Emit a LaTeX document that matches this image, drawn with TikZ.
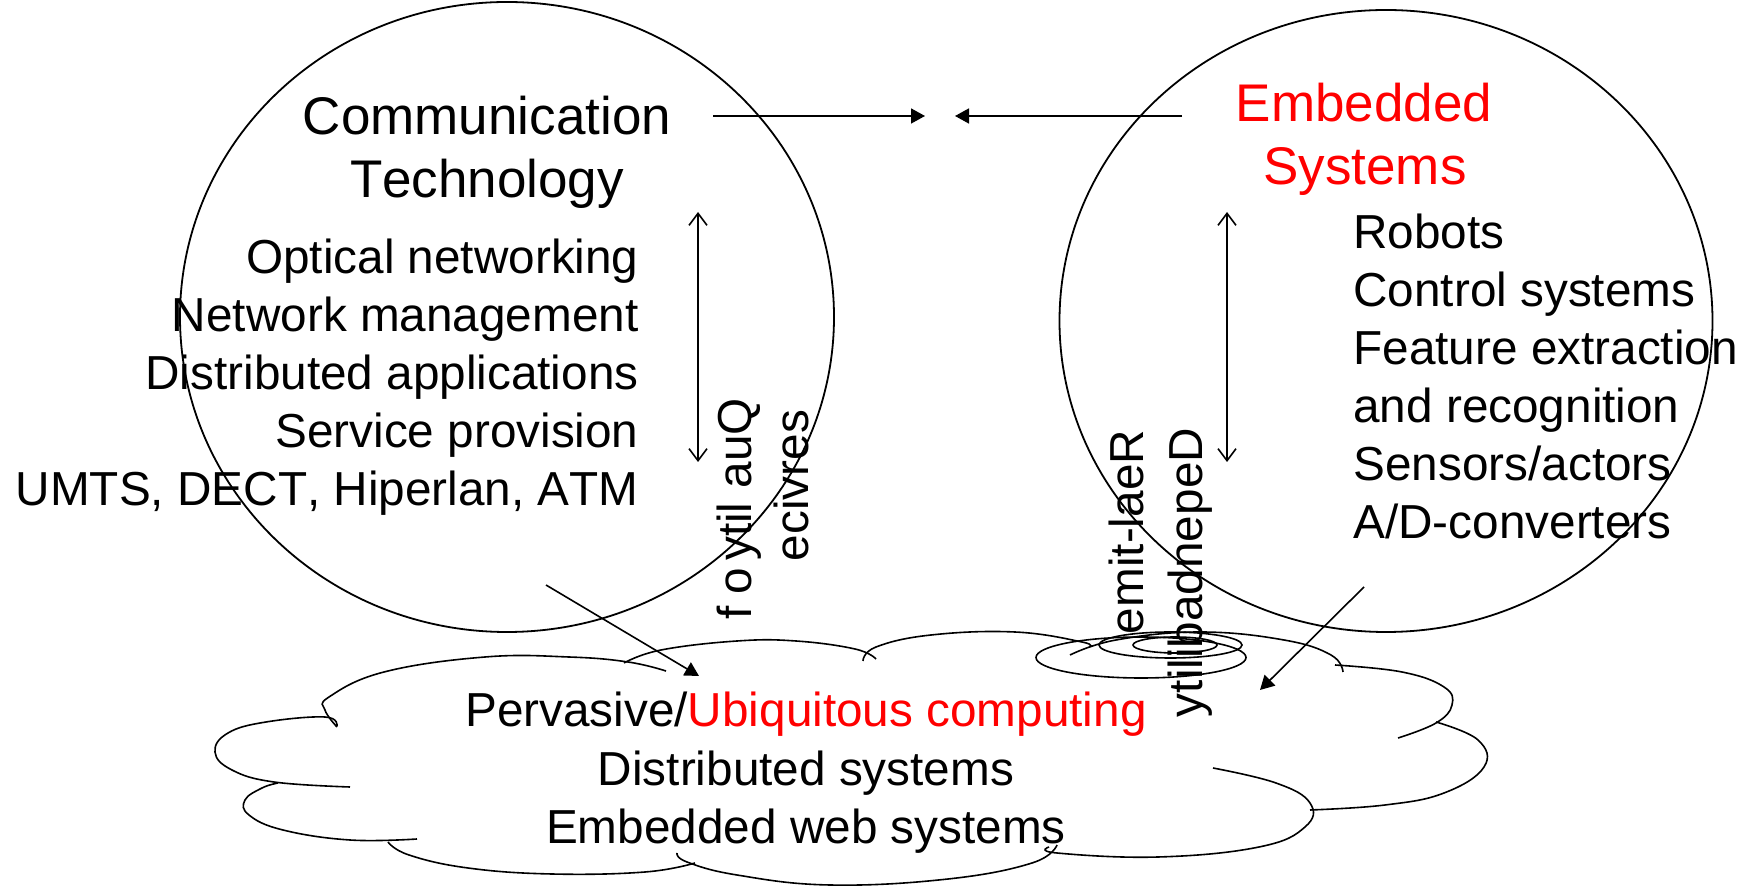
\documentclass[tikz,border=0pt]{standalone}
\usepackage{fontspec}
\setmainfont{Liberation Sans}[Kerning=Off]
\usetikzlibrary{arrows.meta}
\definecolor{ubred}{RGB}{255,0,0}
\newcommand\listfont{\fontsize{23.85}{29}\selectfont}
\newcommand\titlefont{\fontsize{26.5}{32}\selectfont}
\newcommand\vsk[1]{\hspace*{#1em}}
\newcommand\vcol[3]{%
  \node[vstart] (#1-0) at #2 {};
  \foreach \vc [count=\i, remember=\i as \j (initially 0)] in {#3} {
    \node[vch] (#1-\i) at (#1-\j.base west) {\vc};
  }%
}
\tikzset{
  vstart/.style={rotate=90, anchor=base east, inner sep=0pt, outer sep=0pt, font=\listfont},
  vch/.style={rotate=90, anchor=base east, inner sep=0pt, outer sep=0pt, font=\listfont},
  ltext/.style={anchor=base east, inner sep=0pt, font=\listfont},
  rtext/.style={anchor=base west, inner sep=0pt, font=\listfont},
  ctext/.style={anchor=base, inner sep=0pt, font=\listfont},
  ttext/.style={anchor=base, inner sep=0pt, font=\titlefont},
  ring/.style={line width=0.9pt},
  cloudline/.style={line width=0.8pt},
  bump/.style={cloudline, smooth, tension=0.7},
  fillarrow/.style={line width=0.8pt, -{Triangle[length=7pt,width=7.5pt]}},
  openarrow/.style={line width=0.8pt, {Straight Barb[length=6pt,width=9pt]}-{Straight Barb[length=6pt,width=9pt]}},
}
\begin{document}
\begin{tikzpicture}[x=0.5pt,y=-0.5pt]
\useasboundingbox (0,0) rectangle (1746,886);
% big circles
\draw[ring] (507,317) ellipse [x radius=327, y radius=315];
\draw[ring] (1386,321) ellipse [x radius=326.5, y radius=311];
% cloud fill
\fill[white] (215,752) -- (228,733) -- (266,722) -- (325,717)
 -- (329,697) -- (384,672) -- (485,657) -- (569,657) -- (628,662)
 -- (661,650) -- (737,641) -- (796,641) -- (855,649)
 -- (876,647) -- (931,635) -- (1015,632) -- (1082,642)
 -- (1116,640) -- (1200,632) -- (1284,640) -- (1331,655)
 -- (1402,672) -- (1444,687) -- (1452,705) -- (1436,723)
 -- (1478,740) -- (1484,767) -- (1444,793) -- (1385,805) -- (1310,810)
 -- (1305,827) -- (1259,847) -- (1158,857) -- (1057,853)
 -- (1032,863) -- (948,879) -- (830,885) -- (737,875) -- (687,862)
 -- (645,872) -- (552,874) -- (468,868) -- (409,855)
 -- (350,840) -- (283,830) -- (249,815) -- (245,800) -- (262,788)
 -- (232,770) -- cycle;
% cloud bumps
\draw[bump] plot coordinates {(337,727) (325,710) (329,697) (384,672) (485,657) (569,657) (628,662) (666,671)};
\draw[bump] plot coordinates {(624,663) (661,650) (737,641) (796,641) (855,649) (876,659)};
\draw[bump] plot coordinates {(863,661) (876,647) (931,635) (1015,632) (1082,642) (1089,647)};
\draw[bump] plot coordinates {(1070,655) (1116,640) (1200,632) (1284,640) (1331,655) (1343,672)};
\draw[bump] plot coordinates {(1335,665) (1402,672) (1444,687) (1452,705) (1436,723) (1398,738)};
\draw[bump] plot coordinates {(1436,722) (1478,740) (1484,767) (1444,793) (1385,805) (1310,810)};
\draw[bump] plot coordinates {(1213,768) (1276,783) (1310,803) (1305,827) (1259,847) (1158,857) (1057,853) (1049,847)};
\draw[bump] plot coordinates {(1057,845) (1032,863) (948,879) (830,885) (737,875) (687,862) (677,853)};
\draw[bump] plot coordinates {(695,863) (645,872) (552,874) (468,868) (409,855) (388,842)};
\draw[bump] plot coordinates {(417,839) (350,840) (283,830) (249,815) (245,800) (262,788) (278,783)};
\draw[bump] plot coordinates {(350,787) (274,782) (232,770) (215,752) (228,733) (266,722) (325,717) (337,726)};
% concentric ellipses
\draw[cloudline] (1141,657.5) ellipse [x radius=105, y radius=20.5];
\draw[cloudline] (1170.5,645) ellipse [x radius=71.5, y radius=13];
\draw[cloudline] (1175,645) ellipse [x radius=42, y radius=8];
% arrow end points
\coordinate (a1s) at (713,116); \coordinate (a1e) at (925,116);
\coordinate (a2s) at (1182,116); \coordinate (a2e) at (955,116);
\coordinate (v1s) at (698,212); \coordinate (v1e) at (698,462);
\coordinate (v2s) at (1227,212); \coordinate (v2e) at (1227,462);
\coordinate (d1s) at (546,585); \coordinate (d1e) at (699,676);
\coordinate (d2s) at (1364,587); \coordinate (d2e) at (1260,690);
\draw[fillarrow] (a1s) -- (a1e);
\draw[fillarrow] (a2s) -- (a2e);
\draw[openarrow] (v1s) -- (v1e);
\draw[openarrow] (v2s) -- (v2e);
\draw[fillarrow] (d1s) -- (d1e);
\draw[fillarrow] (d2s) -- (d2e);
% titles
\node[ttext] (ct1) at (487,135) {Communication};
\node[ttext] (ct2) at (487,198) {Technology};
\node[ttext, text=ubred] (es1) at (1364,122) {Embedded};
\node[ttext, text=ubred] (es2) at (1365,185) {Systems};
% left list
\node[ltext] (l1) at (639,274) {Optical networking};
\node[ltext] (l2) at (639,332) {Network management};
\node[ltext] (l3) at (639,390) {Distributed applications};
\node[ltext] (l4) at (639,448) {Service provision};
\node[ltext] (l5) at (639,506) {UMTS, DECT, Hiperlan, ATM};
% right list
\node[rtext] (r1) at (1353,249) {Robots};
\node[rtext] (r2) at (1353,307) {Control systems};
\node[rtext] (r3) at (1353,365) {Feature extraction};
\node[rtext] (r4) at (1353,423) {and recognition};
\node[rtext] (r5) at (1353,481) {Sensors/actors};
\node[rtext] (r6) at (1353,539) {A/D-converters};
% cloud text
\node[ctext] (c1) at (806,727) {Pervasive/\textcolor{ubred}{Ubiquitous computing}};
\node[ctext] (c2) at (806,786) {Distributed systems};
\node[ctext] (c3) at (806,844) {Embedded web systems};
% vertical texts
\vcol{qa}{(751,396)}{Q,u,a,{\vsk{0.3}},l,i,t,y,{\vsk{0.15}},o,{\vsk{0.25}},f}
\vcol{sv}{(808,408)}{s,e,r,v,i,c,e}
\vcol{rt}{(1143,428)}{R,e,a,l,-,t,i,m,e}
\vcol{dp}{(1202,426)}{D,e,p,e,n,d,a,b,i,l,i,t,y}
\end{tikzpicture}
\end{document}
